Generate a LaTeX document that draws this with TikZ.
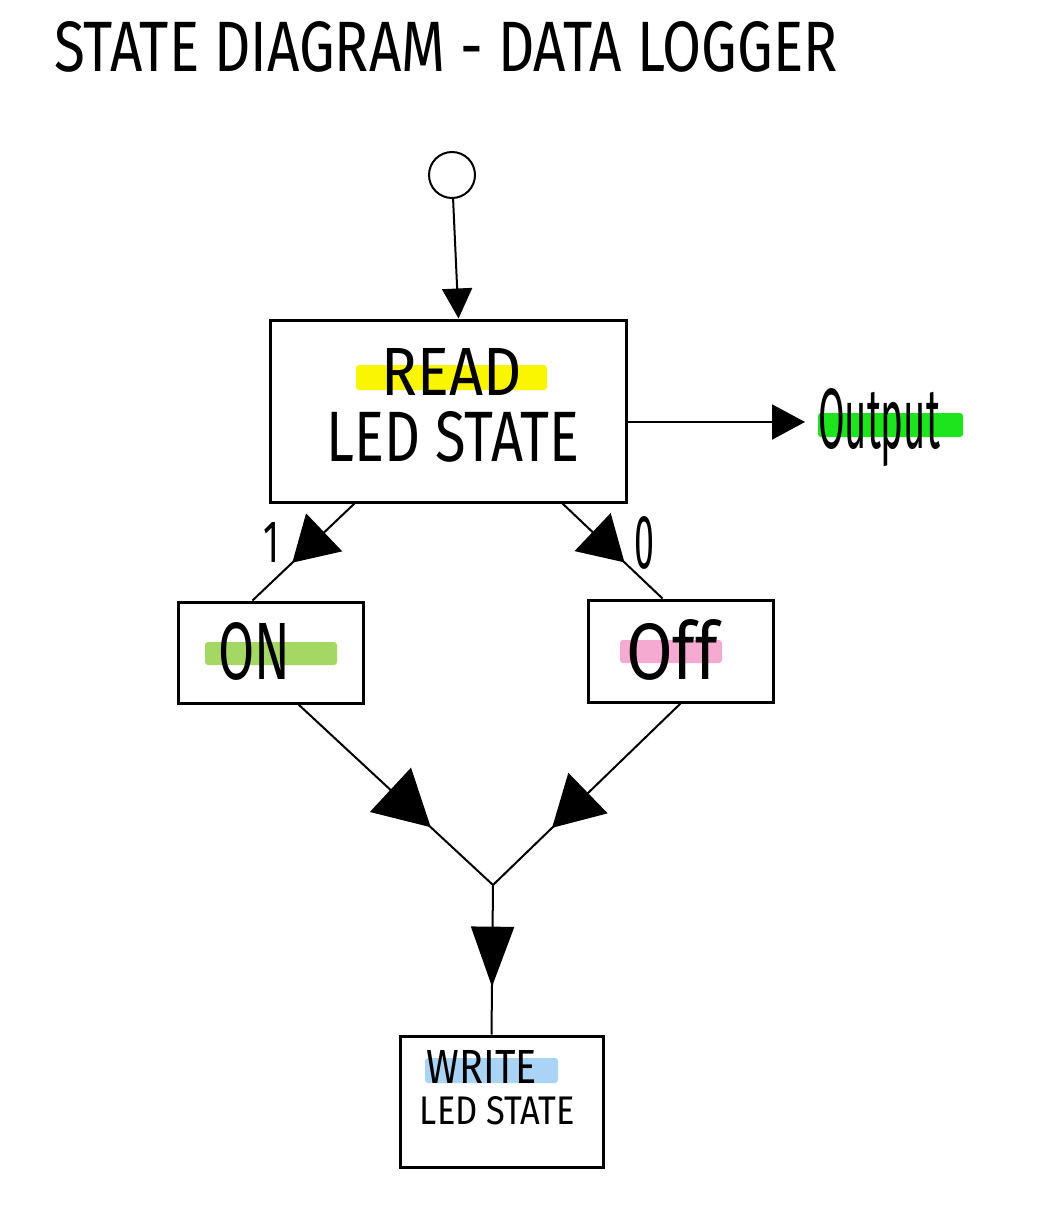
\documentclass[tikz,border=0pt]{standalone}
\usepackage{fontspec}
\setmainfont{Fira Sans}
\usetikzlibrary{arrows.meta,decorations.markings,calc}
\definecolor{hlyellow}{RGB}{250,245,0}
\definecolor{hlgreen}{RGB}{30,228,30}
\definecolor{hlon}{RGB}{165,215,100}
\definecolor{hloff}{RGB}{245,170,210}
\definecolor{hlblue}{RGB}{170,212,245}
\begin{document}
\begin{tikzpicture}[x=1pt,y=-1pt,
  statebox/.style={draw=black, line width=3pt, inner sep=0pt},
  txt/.style={inner sep=0pt, outer sep=0pt},
  conn/.style={draw=black, line width=2pt},
  midarrow/.style n args={3}{postaction={decorate},
    decoration={markings, mark=at position #1 with {\arrow{Triangle[length=#2,width=#3]}}}},
  hl/.style={rounded corners=3pt}]
\fill[white] (0,0) rectangle (1046,1209);
\useasboundingbox (0,0) rectangle (1046,1209);

% title
\node[txt] (title) at (446,47) {\resizebox{783pt}{50pt}{STATE DIAGRAM - DATA LOGGER}};

% start
\node[draw=black, circle, line width=2pt, minimum size=46pt, inner sep=0pt] (start) at (452,175) {};

% boxes
\node[statebox, minimum width=356pt, minimum height=182pt] (read) at (448,411) {};
\node[statebox, minimum width=185pt, minimum height=101pt] (on) at (270.5,652.5) {};
\node[statebox, minimum width=185pt, minimum height=102pt] (off) at (680.5,651) {};
\node[statebox, minimum width=203pt, minimum height=131pt] (write) at (501.5,1101.5) {};

% highlights
\fill[hl, hlyellow] (356,365) rectangle (547,390);
\fill[hl, hlgreen] (818,413) rectangle (963,437);
\fill[hl, hlon] (205,642) rectangle (337,665);
\fill[hl, hloff] (620,640) rectangle (722,663);
\fill[hl, hlblue] (425,1058) rectangle (558,1083);

% texts
\node[txt] (readt) at (452,371.5) {\resizebox{140pt}{47pt}{READ}};
\node[txt] (readled) at (453,437) {\resizebox{252pt}{50pt}{LED STATE}};
\node[txt] (ont) at (254,651.5) {\resizebox{72pt}{57pt}{ON}};
\node[txt] (offt) at (672,650) {\resizebox{92pt}{60pt}{Off}};
\node[txt] (writet) at (482,1066.5) {\resizebox{110pt}{33pt}{WRITE}};
\node[txt] (writeled) at (497.5,1111) {\resizebox{155pt}{28pt}{LED STATE}};
\node[txt, anchor=base west] (outt) at (818,448) {\resizebox{122pt}{60pt}{Output}};
\node[txt] (one) at (271,542) {\resizebox{16pt}{40pt}{1}};
\node[txt] (zero) at (644,543) {\resizebox{20pt}{52pt}{0}};

% coordinates
\coordinate (join) at (493,885);
\coordinate (outtip) at (805,422);

% connectors
\draw[conn, -{Triangle[length=30pt,width=30pt]}] (start) -- ($(read.north west)+(190,0)$);
\draw[conn, -{Triangle[length=33pt,width=35pt]}] ($(read.east)+(0,11)$) -- (outtip);
\draw[conn, midarrow={0.61}{44pt}{52pt}] ($(read.south west)+(86,0)$) -- ($(on.north west)+(76,0)$);
\draw[conn, midarrow={0.62}{44pt}{52pt}] ($(read.south west)+(294,0)$) -- ($(off.north west)+(76,0)$);
\draw[conn, midarrow={0.68}{55pt}{60pt}] ($(on.south west)+(122,0)$) -- (join);
\draw[conn, midarrow={0.685}{50pt}{56pt}] ($(off.south west)+(94,0)$) -- (join);
\draw[conn, midarrow={0.68}{60pt}{43pt}] (join) -- ($(write.north west)+(93,0)$);
\end{tikzpicture}
\end{document}
